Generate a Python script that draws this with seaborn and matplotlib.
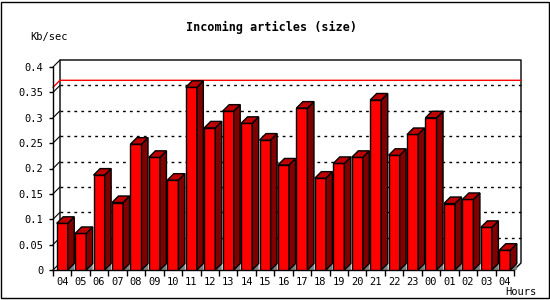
import numpy as np
import matplotlib
matplotlib.use('Agg')
import matplotlib.pyplot as plt
import matplotlib.patches as mpatches
import seaborn as sns

# data
hours = ['04', '05', '06', '07', '08', '09', '10', '11', '12', '13', '14', '15', '16',
         '17', '18', '19', '20', '21', '22', '23', '00', '01', '02', '03', '04']
values = [0.092, 0.072, 0.187, 0.133, 0.248, 0.222, 0.177, 0.360, 0.280, 0.313, 0.289,
          0.256, 0.207, 0.319, 0.181, 0.210, 0.222, 0.335, 0.226, 0.267, 0.300, 0.131,
          0.139, 0.084, 0.039]
y_ticks = [0, 0.05, 0.1, 0.15, 0.2, 0.25, 0.3, 0.35, 0.4]
y_tick_labels = ['0', '0.05', '0.1', '0.15', '0.2', '0.25', '0.3', '0.35', '0.4']

sns.set_style('ticks')
plt.rcParams['font.family'] = ['DejaVu Sans Mono']
plt.rcParams['text.color'] = 'black'
plt.rcParams['xtick.color'] = 'black'
plt.rcParams['ytick.color'] = 'black'
plt.rcParams['xtick.labelcolor'] = 'black'
plt.rcParams['ytick.labelcolor'] = 'black'

fig = plt.figure(figsize=(5.5, 3), dpi=100)
ax_w, ax_h = 461, 203
ax = fig.add_axes([53 / 550, 30 / 300, ax_w / 550, ax_h / 300])

n = len(values)
pos = np.arange(n)
xmin, xmax, ymax = -0.5, n - 0.5, 0.4

# pixel -> data conversions for the 3D depth
def dx(p):
    return p * (xmax - xmin) / ax_w

def dy(p):
    return p * ymax / ax_h

sns.barplot(x=pos, y=values, width=0.6, color='#ff0000', saturation=1,
            edgecolor='black', linewidth=1, ax=ax, zorder=3)

# bar tops, sides and floor shadows
bdx, bdy = dx(6.5), dy(6.5)
for i, v in enumerate(values):
    l, r = i - 0.3, i + 0.3
    ax.fill([r, r + bdx, r + bdx], [0, bdy, 0], color='#808080', lw=0, zorder=2, clip_on=False)
    ax.fill([r, r, r + bdx, r + bdx], [0, v, v + bdy, bdy], facecolor='#800000',
            edgecolor='black', lw=1, zorder=3, clip_on=False)
    ax.fill([l, r, r + bdx, l + bdx], [v, v, v + bdy, v + bdy], facecolor='#c00000',
            edgecolor='black', lw=1, zorder=3, clip_on=False)

# back plane frame and grid
fdx, fdy = dx(7), dy(7)
ax.plot([xmin + fdx, xmin + fdx, xmax + fdx, xmax + fdx, xmax],
        [fdy, ymax + fdy, ymax + fdy, fdy, 0], color='black', lw=1, zorder=1, clip_on=False)
for t in y_ticks:
    ax.plot([xmin, xmin + fdx], [t, t + fdy], color='black', lw=0.8, zorder=1, clip_on=False)
for t in y_ticks[1:-1]:
    ax.plot([xmin + fdx, xmax + fdx], [t + fdy, t + fdy], color='black', lw=1,
            ls=(0, (2, 3)), zorder=1, clip_on=False)

# max line
m = max(values)
ax.plot([xmin, xmin + fdx, xmax + fdx], [m, m + fdy, m + fdy], color='#ff0000', lw=1,
        zorder=1, clip_on=False)

ax.set_xlim(xmin, xmax)
ax.set_ylim(0, ymax)
ax.set_xticks(pos, hours)
ax.set_xticks(np.arange(xmin, xmax + 1), minor=True)
ax.set_yticks(y_ticks, y_tick_labels)
ax.tick_params(axis='x', which='major', length=0, labelsize=7.5, pad=5)
ax.tick_params(axis='x', which='minor', length=4, width=1, color='black')
ax.tick_params(axis='y', length=3, width=1, labelsize=7.5, pad=4, color='black')
ax.set_xlabel('')
ax.set_ylabel('')
for s in ['top', 'right']:
    ax.spines[s].set_visible(False)
for s in ['left', 'bottom']:
    ax.spines[s].set_color('black')
    ax.spines[s].set_linewidth(1)
ax.patch.set_visible(False)

fig.text(272 / 550, 1 - 27 / 300, 'Incoming articles (size)', ha='center', va='center',
         fontsize=8.5, fontweight='bold', color='black')
fig.text(30 / 550, 1 - 37 / 300, 'Kb/sec', ha='left', va='center', fontsize=7.5, color='black')
fig.text(505 / 550, 1 - 292 / 300, 'Hours', ha='left', va='center', fontsize=7.5, color='black')

fig.add_artist(mpatches.Rectangle((1 / 550, 2.5 / 300), 547.5 / 550, 296 / 300,
                                  transform=fig.transFigure, fill=False,
                                  edgecolor='black', lw=1))

fig.savefig('out.png', dpi=100)
